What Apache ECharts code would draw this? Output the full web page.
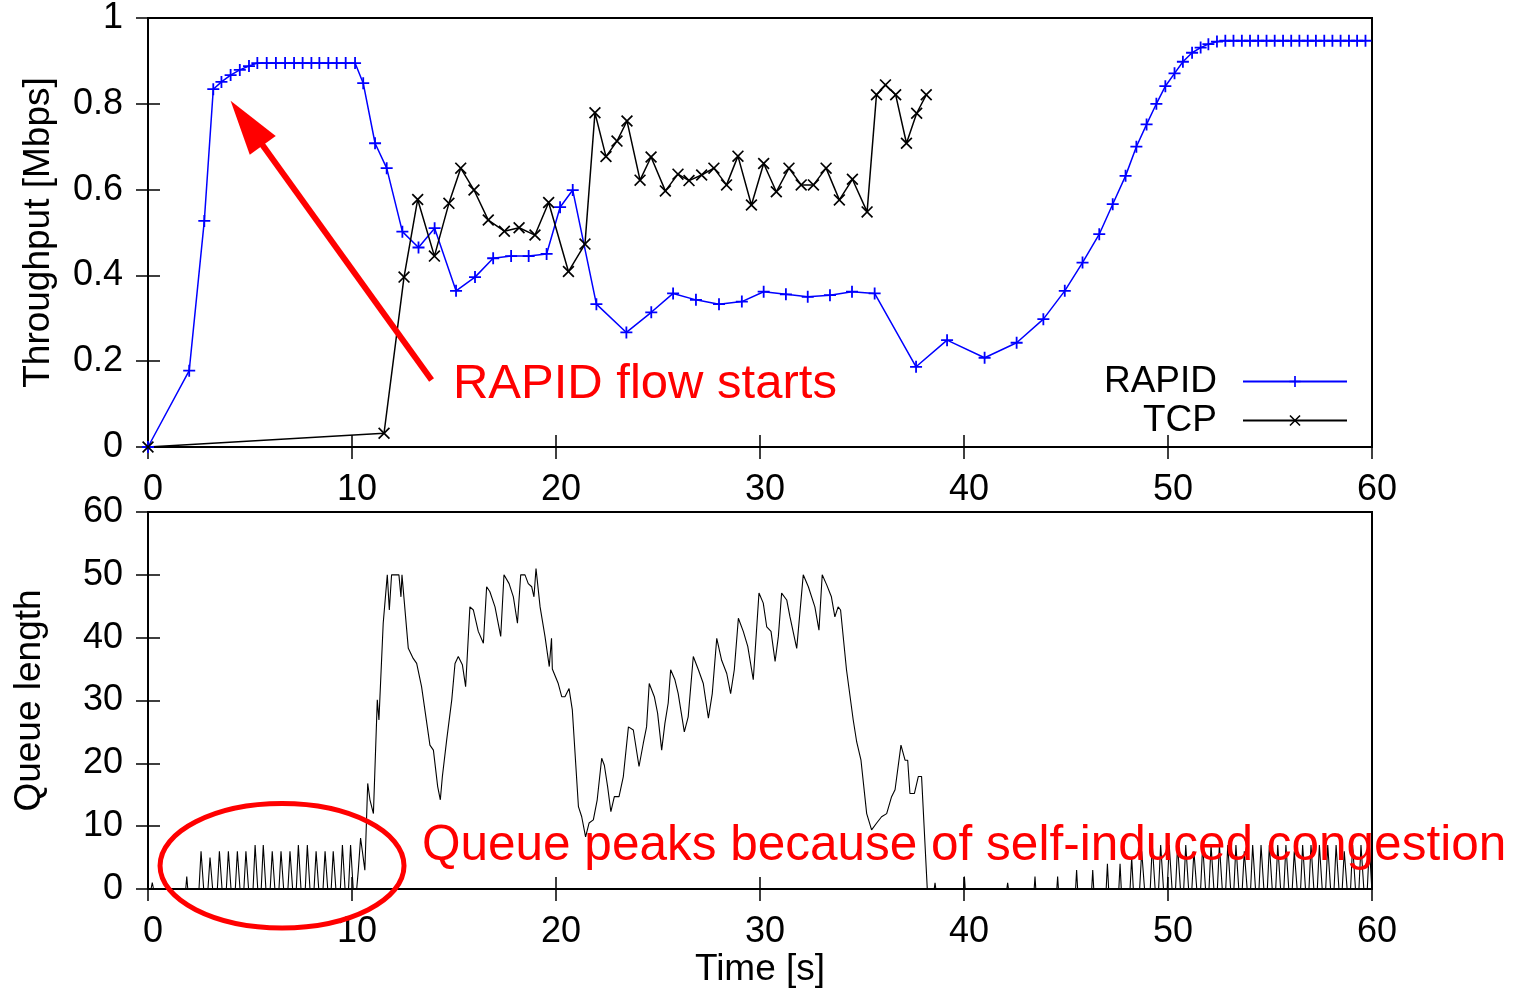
<!DOCTYPE html>
<html>
<head>
<meta charset="utf-8">
<title>RAPID vs TCP: throughput and queue length</title>
<script src="https://cdn.jsdelivr.net/npm/echarts@6/dist/echarts.min.js"></script>
<style>
  html, body { margin: 0; padding: 0; background: #ffffff; }
  #chart { width: 1515px; height: 989px; }
</style>
</head>
<body>
<div id="chart"></div>
<script>
// ---- tick labels ----
const timeTicks = [0, 10, 20, 30, 40, 50, 60];
const throughputTicks = [0, 0.2, 0.4, 0.6, 0.8, 1];
const queueTicks = [0, 10, 20, 30, 40, 50, 60];

// ---- RAPID throughput [time s, Mbps] ----
const rapidPoints = [
  [0, 0], [2.02, 0.178], [2.76, 0.527], [3.2, 0.834], [3.6, 0.851], [4.05, 0.867],
  [4.5, 0.879], [4.95, 0.888], [5.36, 0.895], [5.82, 0.895], [6.27, 0.895], [6.72, 0.895],
  [7.16, 0.895], [7.58, 0.895], [8.01, 0.895], [8.40, 0.895], [8.84, 0.895], [9.25, 0.895],
  [9.69, 0.895], [10.15, 0.895], [10.55, 0.848], [11.13, 0.708], [11.7, 0.650], [12.47, 0.502],
  [13.26, 0.465], [14.05, 0.510], [15.1, 0.364], [16.03, 0.396], [16.92, 0.440], [17.8, 0.445],
  [18.66, 0.445], [19.54, 0.450], [20.2, 0.559], [20.82, 0.599], [21.98, 0.333], [23.45, 0.267],
  [24.67, 0.314], [25.74, 0.358], [26.86, 0.343], [27.99, 0.333], [29.11, 0.339], [30.18, 0.362],
  [31.27, 0.356], [32.34, 0.350], [33.43, 0.354], [34.51, 0.362], [35.62, 0.358], [37.65, 0.187],
  [39.17, 0.249], [41.01, 0.208], [42.58, 0.243], [43.89, 0.298], [44.94, 0.364], [45.81, 0.430],
  [46.63, 0.496], [47.29, 0.566], [47.92, 0.632], [48.45, 0.700], [48.95, 0.752], [49.43, 0.800],
  [49.87, 0.841], [50.32, 0.871], [50.73, 0.898], [51.18, 0.919], [51.6, 0.931], [51.98, 0.939],
  [52.4, 0.945], [52.81, 0.947], [53.21, 0.947], [53.62, 0.947], [54.02, 0.947], [54.42, 0.947],
  [54.83, 0.947], [55.23, 0.947], [55.64, 0.947], [56.04, 0.947], [56.44, 0.947], [56.85, 0.947],
  [57.25, 0.947], [57.66, 0.947], [58.06, 0.947], [58.46, 0.947], [58.87, 0.947], [59.27, 0.947],
  [59.68, 0.947]
];

// ---- TCP throughput [time s, Mbps] ----
const tcpPoints = [
  [0, 0], [11.57, 0.032], [12.55, 0.396], [13.22, 0.577], [14.04, 0.445], [14.75, 0.568],
  [15.33, 0.650], [15.98, 0.599], [16.68, 0.529], [17.47, 0.503], [18.19, 0.511], [18.97, 0.494],
  [19.64, 0.570], [20.61, 0.409], [21.42, 0.473], [21.91, 0.779], [22.45, 0.677], [22.99, 0.713],
  [23.48, 0.760], [24.12, 0.622], [24.66, 0.676], [25.36, 0.597], [25.98, 0.636], [26.52, 0.621],
  [27.14, 0.634], [27.74, 0.650], [28.36, 0.611], [28.92, 0.678], [29.58, 0.564], [30.18, 0.661],
  [30.8, 0.595], [31.42, 0.650], [32.02, 0.611], [32.62, 0.611], [33.24, 0.650], [33.89, 0.576],
  [34.53, 0.624], [35.25, 0.548], [35.71, 0.821], [36.15, 0.844], [36.65, 0.821], [37.18, 0.708],
  [37.68, 0.778], [38.15, 0.821]
];

// ---- bottleneck queue length [time s, packets] ----
// RAPID alone: short probing bursts drain back to an empty queue
const queueStartup = [
  [0, 0], [0.15, 0], [0.21, 1], [0.27, 0],
  [1.85, 0], [1.9, 2], [1.95, 0],
  [2.50, 0], [2.60, 6], [2.73, 0],
  [2.94, 0], [3.04, 5], [3.17, 0],
  [3.40, 0], [3.50, 6], [3.63, 0],
  [3.84, 0], [3.94, 6], [4.07, 0],
  [4.28, 0], [4.38, 6], [4.51, 0],
  [4.70, 0], [4.80, 6], [4.93, 0],
  [5.15, 0], [5.25, 7], [5.38, 0],
  [5.55, 0], [5.65, 7], [5.78, 0],
  [5.99, 0], [6.09, 6], [6.22, 0],
  [6.42, 0], [6.52, 6], [6.65, 0],
  [6.86, 0], [6.96, 6], [7.09, 0],
  [7.27, 0], [7.37, 7], [7.50, 0],
  [7.71, 0], [7.81, 7], [7.94, 0],
  [8.14, 0], [8.24, 6], [8.37, 0],
  [8.58, 0], [8.68, 6], [8.81, 0],
  [8.98, 0], [9.08, 6], [9.21, 0],
  [9.43, 0], [9.53, 7], [9.66, 0],
  [9.83, 0], [9.93, 7], [10.06, 0]
];
// TCP joins: the queue builds up to the 50-packet limit
const queueCongestion = [
  [10.23, 0], [10.31, 3], [10.42, 8.1], [10.5, 6.2], [10.63, 3], [10.77, 16.8], [10.88, 14.2],
  [11.05, 12], [11.24, 30.1], [11.32, 26.9], [11.53, 42.3], [11.73, 50], [11.83, 44.4], [11.94, 50],
  [12.3, 50], [12.4, 46.5], [12.45, 50], [12.51, 50], [12.76, 38.3], [13.0, 36.7], [13.17, 35.9],
  [13.41, 32.2], [13.82, 22.9], [13.99, 22.1], [14.2, 16.3], [14.33, 14.2], [14.43, 17.9],
  [14.64, 23.7], [14.89, 30.1], [15.05, 35.9], [15.21, 37.0], [15.41, 35.7], [15.57, 32.2],
  [15.78, 44.9], [15.95, 44.4], [16.19, 41.0], [16.44, 39.1], [16.6, 48.1], [16.76, 47.3],
  [17.01, 44.9], [17.29, 40.2], [17.45, 50], [17.7, 48.6], [17.91, 46.5], [18.11, 42.3],
  [18.27, 50], [18.48, 50], [18.64, 48.6], [18.81, 48.1], [18.92, 46.5], [19.02, 51],
  [19.22, 44.9], [19.46, 40.2], [19.67, 35.4], [19.78, 39.9], [19.82, 35], [19.9, 34.9],
  [20.11, 32.7], [20.28, 30.6], [20.44, 30.6], [20.64, 31.9], [20.8, 28.5], [21.1, 13.1],
  [21.26, 11.5], [21.45, 8.3], [21.62, 10.5], [21.83, 11.0], [22.02, 14.2], [22.24, 20.8],
  [22.37, 19.7], [22.53, 16.3], [22.69, 12.3], [22.86, 14.7], [23.09, 14.7], [23.3, 17.9],
  [23.55, 25.8], [23.79, 25.3], [24.07, 19.5], [24.28, 23.2], [24.44, 25.8], [24.57, 32.7],
  [24.82, 30.6], [24.98, 28.0], [25.18, 22.1], [25.34, 26.4], [25.5, 29.6], [25.62, 34.9],
  [25.83, 33.3], [25.99, 31.1], [26.29, 25.0], [26.48, 27.4], [26.73, 37.0], [26.98, 34.9],
  [27.22, 32.7], [27.47, 27.2], [27.66, 31.1], [27.88, 39.9], [28.12, 36.4], [28.37, 34.3],
  [28.56, 31.1], [28.74, 34.9], [28.94, 43.1], [29.18, 41.0], [29.4, 38.6], [29.67, 33.3],
  [29.95, 47.1], [30.16, 45.5], [30.33, 41.7], [30.54, 41.0], [30.74, 36.2], [30.9, 40.2],
  [31.06, 47.1], [31.31, 46.0], [31.47, 43.3], [31.8, 38.3], [32.12, 50], [32.37, 48.1],
  [32.69, 44.9], [32.89, 41.2], [33.05, 50], [33.27, 48.4], [33.5, 46.5], [33.67, 43.3],
  [33.83, 44.9], [33.95, 44.4], [34.24, 34.9], [34.57, 26.9], [34.74, 23.4], [34.95, 20.5],
  [35.23, 12.0], [35.47, 9.4], [35.72, 10.5], [35.96, 11.5], [36.21, 12.0], [36.45, 14.7],
  [36.62, 15.8], [36.91, 22.9], [37.11, 20.5], [37.24, 20.5], [37.35, 15.2], [37.57, 15.2],
  [37.76, 17.9], [37.92, 17.9], [38.2, 0]
];
// TCP done: RAPID ramps up again with growing bursts
const queueRecovery = [
  [38.54, 0], [38.58, 1], [38.62, 0],
  [39.98, 0], [40.02, 2], [40.06, 0],
  [42.10, 0], [42.14, 1], [42.18, 0],
  [43.44, 0], [43.48, 2], [43.52, 0],
  [44.55, 0], [44.59, 2], [44.63, 0],
  [45.47, 0], [45.52, 3], [45.57, 0],
  [46.26, 0], [46.31, 3], [46.36, 0],
  [46.97, 0], [47.03, 4], [47.09, 0],
  [47.59, 0], [47.65, 4], [47.71, 0],
  [48.14, 0], [48.22, 5], [48.30, 0],
  [48.61, 0], [48.71, 6], [48.85, 0],
  [49.13, 0], [49.23, 7], [49.37, 0],
  [49.54, 0], [49.64, 7], [49.78, 0],
  [49.96, 0], [50.06, 7], [50.20, 0],
  [50.37, 0], [50.47, 7], [50.61, 0],
  [50.77, 0], [50.87, 7], [51.01, 0],
  [51.17, 0], [51.27, 6], [51.41, 0],
  [51.60, 0], [51.70, 7], [51.84, 0],
  [52.01, 0], [52.11, 7], [52.25, 0],
  [52.42, 0], [52.52, 7], [52.66, 0],
  [52.83, 0], [52.93, 7], [53.07, 0],
  [53.23, 0], [53.33, 7], [53.47, 0],
  [53.64, 0], [53.74, 6], [53.88, 0],
  [54.05, 0], [54.15, 7], [54.29, 0],
  [54.46, 0], [54.56, 7], [54.70, 0],
  [54.87, 0], [54.97, 7], [55.11, 0],
  [55.28, 0], [55.38, 7], [55.52, 0],
  [55.68, 0], [55.78, 7], [55.92, 0],
  [56.09, 0], [56.19, 6], [56.33, 0],
  [56.50, 0], [56.60, 7], [56.74, 0],
  [56.91, 0], [57.01, 7], [57.15, 0],
  [57.32, 0], [57.42, 7], [57.56, 0],
  [57.73, 0], [57.83, 7], [57.97, 0],
  [58.14, 0], [58.24, 7], [58.38, 0],
  [58.54, 0], [58.64, 6], [58.78, 0],
  [58.95, 0], [59.05, 7], [59.19, 0],
  [59.36, 0], [59.46, 7], [59.60, 0],
  [59.77, 0], [59.87, 7], [59.99, 0]
];

// ---- annotation anchors, in data coordinates ----
const arrowTail = [13.9, 0.156];
const arrowTip = [4.05, 0.807];
const flowLabelAt = [14.95, 0.145];
const ellipseBox = { tLeft: 0.59, tRight: 12.55, qTop: 13.6, qBottom: -6.2 };
const queueLabelAt = [13.43, 6.8];

// ---- styling ----
const FONT = 'Liberation Sans';
const BLUE = '#0000ff';
const BLACK = '#000000';
const RED = '#ff0000';
// filled glyphs for gnuplot-style point markers
const PLUS = 'path://M0,4.25L10,4.25L10,5.75L0,5.75Z M4.25,0L5.75,0L5.75,10L4.25,10Z';
const CROSS = 'path://M1,0L10,9L9,10L0,1Z M9,0L10,1L1,10L0,9Z';

const tickStyle = { show: true, inside: true, length: 12, lineStyle: { color: BLACK, width: 1.5 } };
const labelStyle = { color: BLACK, fontSize: 36, fontFamily: FONT };

function xAxisCfg(gridIndex, position, showLabels, name) {
  return {
    type: 'value', gridIndex, position,
    min: timeTicks[0], max: timeTicks[timeTicks.length - 1], interval: timeTicks[1] - timeTicks[0],
    axisLine: { show: false }, splitLine: { show: false }, axisTick: tickStyle,
    axisLabel: showLabels ? Object.assign({ margin: 25, padding: [0, 0, 0, 10] }, labelStyle) : { show: false },
    name: name || '', nameLocation: 'middle', nameGap: 62,
    nameTextStyle: { color: BLACK, fontSize: 37, fontFamily: FONT }
  };
}
function yAxisCfg(gridIndex, position, ticks, showLabels, name, nameGap) {
  return {
    type: 'value', gridIndex, position,
    min: ticks[0], max: ticks[ticks.length - 1], interval: ticks[1] - ticks[0],
    axisLine: { show: false }, splitLine: { show: false }, axisTick: tickStyle,
    axisLabel: showLabels ? Object.assign({ margin: 25 }, labelStyle) : { show: false },
    name: name || '', nameLocation: 'middle', nameGap: nameGap || 0,
    nameTextStyle: { color: BLACK, fontSize: 37, fontFamily: FONT }
  };
}

const chart = echarts.init(document.getElementById('chart'), null, { renderer: 'canvas' });

const option = {
  animation: false,
  backgroundColor: '#ffffff',
  textStyle: { fontFamily: FONT },
  grid: [
    { left: 148, top: 18, width: 1224, height: 429, show: true, borderColor: BLACK, borderWidth: 2, backgroundColor: 'transparent' },
    { left: 148, top: 512, width: 1224, height: 377, show: true, borderColor: BLACK, borderWidth: 2, backgroundColor: 'transparent' }
  ],
  xAxis: [
    xAxisCfg(0, 'bottom', true),
    xAxisCfg(0, 'top', false),
    xAxisCfg(1, 'bottom', true, 'Time [s]'),
    xAxisCfg(1, 'top', false)
  ],
  yAxis: [
    yAxisCfg(0, 'left', throughputTicks, true, 'Throughput [Mbps]', 91),
    yAxisCfg(0, 'right', throughputTicks, false),
    yAxisCfg(1, 'left', queueTicks, true, 'Queue length', 100),
    yAxisCfg(1, 'right', queueTicks, false)
  ],
  legend: {
    data: ['RAPID', 'TCP'],
    orient: 'vertical', align: 'right',
    right: 167, top: 363, padding: 0,
    itemWidth: 104, itemHeight: 14, itemGap: 2,
    selectedMode: false,
    textStyle: { color: BLACK, fontSize: 37, fontFamily: FONT, padding: [0, 21, 0, 0] }
  },
  series: [
    {
      name: 'RAPID', type: 'line', xAxisIndex: 0, yAxisIndex: 0,
      data: rapidPoints,
      symbol: PLUS, symbolSize: 12,
      lineStyle: { color: BLUE, width: 1.5 },
      itemStyle: { color: BLUE }
    },
    {
      name: 'TCP', type: 'line', xAxisIndex: 0, yAxisIndex: 0,
      data: tcpPoints,
      symbol: CROSS, symbolSize: 12,
      lineStyle: { color: BLACK, width: 1.5 },
      itemStyle: { color: BLACK }
    },
    {
      name: 'Queue', type: 'line', xAxisIndex: 2, yAxisIndex: 2,
      data: queueStartup.concat(queueCongestion, queueRecovery),
      symbol: 'none', showSymbol: false,
      lineStyle: { color: BLACK, width: 1.1 }
    }
  ]
};
chart.setOption(option);

// ---- red annotations, placed through the axes' own scales ----
const topPx = (p) => chart.convertToPixel({ gridIndex: 0 }, p);
const botPx = (p) => chart.convertToPixel({ gridIndex: 1 }, p);

const tail = topPx(arrowTail);
const tip = topPx(arrowTip);
const dx = tail[0] - tip[0], dy = tail[1] - tip[1];
const len = Math.hypot(dx, dy);
const ux = dx / len, uy = dy / len;
const headLen = 55, headHalf = 16;
const base = [tip[0] + ux * headLen, tip[1] + uy * headLen];
const c1 = [base[0] - uy * headHalf, base[1] + ux * headHalf];
const c2 = [base[0] + uy * headHalf, base[1] - ux * headHalf];

const eTL = botPx([ellipseBox.tLeft, ellipseBox.qTop]);
const eBR = botPx([ellipseBox.tRight, ellipseBox.qBottom]);
const flowPx = topPx(flowLabelAt);
const queuePx = botPx(queueLabelAt);

chart.setOption({
  graphic: [
    {
      type: 'line', z: 50,
      shape: { x1: tail[0], y1: tail[1], x2: base[0] - ux * 2, y2: base[1] - uy * 2 },
      style: { stroke: RED, lineWidth: 6 }
    },
    {
      type: 'polygon', z: 50,
      shape: { points: [tip, c1, c2] },
      style: { fill: RED }
    },
    {
      type: 'ellipse', z: 50,
      shape: { cx: (eTL[0] + eBR[0]) / 2, cy: (eTL[1] + eBR[1]) / 2, rx: (eBR[0] - eTL[0]) / 2, ry: (eBR[1] - eTL[1]) / 2 },
      style: { fill: 'none', stroke: RED, lineWidth: 5 }
    },
    {
      type: 'text', z: 50, x: flowPx[0], y: flowPx[1],
      style: { text: 'RAPID flow starts', fill: RED, fontSize: 49, fontFamily: FONT, align: 'left', verticalAlign: 'middle' }
    },
    {
      type: 'text', z: 50, x: queuePx[0], y: queuePx[1],
      style: { text: 'Queue peaks because of self-induced congestion', fill: RED, fontSize: 49.5, fontFamily: FONT, align: 'left', verticalAlign: 'middle' }
    }
  ]
});
</script>
</body>
</html>
